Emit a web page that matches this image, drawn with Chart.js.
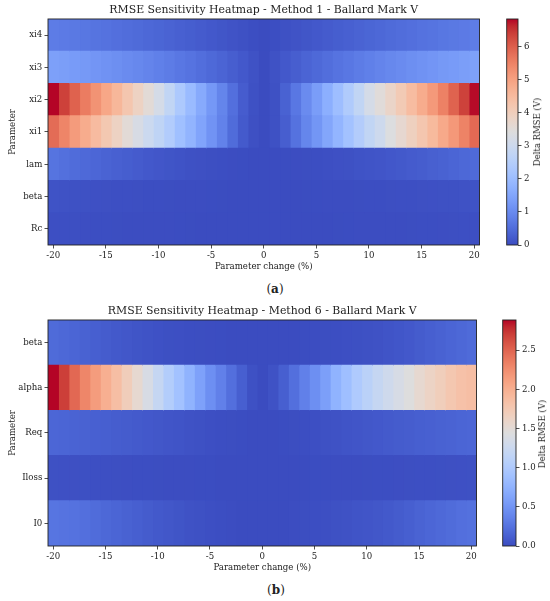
<!DOCTYPE html>
<html>
<head>
<meta charset="utf-8">
<script src="https://cdn.jsdelivr.net/npm/chart.js@4.4.1/dist/chart.umd.min.js"></script>
<style>
  body { margin: 0; background: #fff; font-family: 'DejaVu Serif', serif; color: #222; }
  canvas { position: absolute; }
  .cap { position: absolute; font-size: 12px; transform: translate(-50%, -50%); white-space: nowrap; }
  .cblabel { position: absolute; font-size: 8.5px; white-space: nowrap; transform: translate(-50%, -50%) rotate(-90deg); }
</style>
</head>
<body>
<canvas id="heatA" width="490" height="273" style="left:0;top:0"></canvas>
<canvas id="barA" width="50" height="273" style="left:500px;top:0"></canvas>
<div class="cblabel" style="left:537px;top:132px">Delta RMSE (V)</div>
<div class="cap" style="left:275px;top:289px">(<b>a</b>)</div>

<canvas id="heatB" width="490" height="273" style="left:0;top:301px"></canvas>
<canvas id="barB" width="54" height="273" style="left:496px;top:301px"></canvas>
<div class="cblabel" style="left:541.5px;top:433.5px">Delta RMSE (V)</div>
<div class="cap" style="left:276px;top:590px">(<b>b</b>)</div>

<script>
// parameter change (%) columns
const changes = [-20, -19, -18, -17, -16, -15, -14, -13, -12, -11, -10, -9, -8, -7, -6, -5, -4, -3, -2, -1, 0,
  1, 2, 3, 4, 5, 6, 7, 8, 9, 10, 11, 12, 13, 14, 15, 16, 17, 18, 19, 20];
const changeTicks = [-20, -15, -10, -5, 0, 5, 10, 15, 20];

// (a) Method 1
const paramsA = ['xi4', 'xi3', 'xi2', 'xi1', 'lam', 'beta', 'Rc'];
const xi4A = [0.76, 0.73, 0.70, 0.67, 0.63, 0.59, 0.55, 0.51, 0.47, 0.43, 0.39, 0.35, 0.31, 0.27, 0.23, 0.19, 0.15, 0.11, 0.07, 0.03, 0,
  0.03, 0.07, 0.11, 0.15, 0.19, 0.23, 0.27, 0.31, 0.35, 0.39, 0.43, 0.47, 0.51, 0.55, 0.59, 0.63, 0.67, 0.70, 0.73, 0.77];
const xi3A = [1.40, 1.36, 1.31, 1.26, 1.20, 1.14, 1.08, 1.02, 0.96, 0.89, 0.82, 0.75, 0.68, 0.61, 0.53, 0.45, 0.37, 0.28, 0.19, 0.09, 0,
  0.09, 0.19, 0.28, 0.37, 0.45, 0.53, 0.61, 0.68, 0.75, 0.82, 0.89, 0.96, 1.02, 1.08, 1.14, 1.20, 1.26, 1.31, 1.36, 1.41];
const xi2A = [6.84, 6.38, 5.96, 5.60, 5.25, 4.90, 4.58, 4.22, 3.88, 3.55, 3.18, 2.76, 2.34, 1.97, 1.60, 1.25, 0.90, 0.55, 0.25, 0.07, 0,
  0.08, 0.33, 0.68, 1.02, 1.35, 1.70, 2.05, 2.40, 2.76, 3.18, 3.50, 3.80, 4.12, 4.46, 4.80, 5.15, 5.52, 5.95, 6.36, 6.80];
const xi1A = [5.82, 5.47, 5.12, 4.80, 4.48, 4.18, 3.88, 3.55, 3.25, 2.97, 2.72, 2.43, 2.08, 1.80, 1.48, 1.16, 0.86, 0.50, 0.21, 0.06, 0,
  0.07, 0.28, 0.60, 0.92, 1.21, 1.52, 1.83, 2.13, 2.45, 2.76, 3.02, 3.38, 3.66, 3.95, 4.22, 4.52, 4.85, 5.16, 5.50, 5.86];
const lamA = [0.62, 0.56, 0.50, 0.45, 0.40, 0.35, 0.31, 0.27, 0.23, 0.19, 0.16, 0.13, 0.10, 0.08, 0.06, 0.04, 0.03, 0.02, 0.01, 0.005, 0,
  0.005, 0.01, 0.015, 0.025, 0.035, 0.05, 0.065, 0.08, 0.10, 0.12, 0.14, 0.17, 0.20, 0.23, 0.26, 0.30, 0.34, 0.38, 0.42, 0.46];
const betaA = [0.10, 0.09, 0.08, 0.07, 0.065, 0.06, 0.05, 0.045, 0.04, 0.035, 0.03, 0.025, 0.02, 0.015, 0.012, 0.01, 0.008, 0.006, 0.004, 0.002, 0,
  0.002, 0.004, 0.006, 0.008, 0.01, 0.012, 0.015, 0.02, 0.025, 0.03, 0.035, 0.04, 0.045, 0.05, 0.06, 0.065, 0.07, 0.08, 0.09, 0.10];
const RcA = [0.05, 0.045, 0.04, 0.036, 0.032, 0.028, 0.025, 0.022, 0.019, 0.016, 0.014, 0.012, 0.01, 0.008, 0.006, 0.005, 0.004, 0.003, 0.002, 0.001, 0,
  0.001, 0.002, 0.003, 0.004, 0.005, 0.006, 0.008, 0.01, 0.012, 0.014, 0.016, 0.019, 0.022, 0.025, 0.028, 0.032, 0.036, 0.04, 0.045, 0.05];
const maxA = 6.84;
const barTicksA = [0, 1, 2, 3, 4, 5, 6];

// (b) Method 6
const paramsB = ['beta', 'alpha', 'Req', 'Iloss', 'I0'];
const betaB = [0.20, 0.18, 0.16, 0.14, 0.12, 0.10, 0.085, 0.07, 0.055, 0.045, 0.035, 0.025, 0.02, 0.015, 0.01, 0.008, 0.005, 0.003, 0.002, 0.001, 0,
  0.001, 0.002, 0.003, 0.005, 0.008, 0.01, 0.015, 0.02, 0.025, 0.03, 0.04, 0.05, 0.065, 0.08, 0.10, 0.12, 0.14, 0.16, 0.18, 0.20];
const alphaB = [2.886, 2.70, 2.48, 2.30, 2.15, 2.00, 1.86, 1.70, 1.54, 1.37, 1.20, 1.04, 0.90, 0.75, 0.60, 0.46, 0.35, 0.23, 0.12, 0.03, 0,
  0.04, 0.12, 0.23, 0.35, 0.46, 0.58, 0.75, 0.87, 1.00, 1.10, 1.20, 1.28, 1.36, 1.44, 1.54, 1.62, 1.69, 1.77, 1.83, 1.86];
const ReqB = [0.17, 0.16, 0.15, 0.14, 0.13, 0.12, 0.11, 0.10, 0.09, 0.08, 0.07, 0.06, 0.05, 0.04, 0.03, 0.02, 0.015, 0.01, 0.005, 0.002, 0,
  0.002, 0.005, 0.01, 0.015, 0.02, 0.03, 0.04, 0.05, 0.06, 0.07, 0.08, 0.09, 0.10, 0.11, 0.12, 0.13, 0.14, 0.15, 0.16, 0.17];
const IlossB = [0.03, 0.028, 0.026, 0.024, 0.022, 0.02, 0.018, 0.016, 0.014, 0.012, 0.01, 0.008, 0.007, 0.006, 0.005, 0.004, 0.003, 0.002, 0.001, 0.0005, 0,
  0.0005, 0.001, 0.002, 0.003, 0.004, 0.005, 0.006, 0.007, 0.008, 0.01, 0.012, 0.014, 0.016, 0.018, 0.02, 0.022, 0.024, 0.026, 0.028, 0.03];
const I0B = [0.27, 0.26, 0.25, 0.23, 0.21, 0.18, 0.16, 0.14, 0.12, 0.10, 0.085, 0.07, 0.055, 0.04, 0.03, 0.02, 0.012, 0.006, 0.003, 0.001, 0,
  0.001, 0.003, 0.006, 0.01, 0.015, 0.022, 0.03, 0.04, 0.05, 0.06, 0.07, 0.085, 0.10, 0.12, 0.15, 0.17, 0.19, 0.21, 0.23, 0.24];
const maxB = 2.886;
const barTicksB = [0, 0.5, 1, 1.5, 2, 2.5];

// matplotlib coolwarm
const coolwarm = [
  [59, 76, 192], [68, 90, 204], [77, 104, 215], [87, 117, 225], [98, 130, 234], [108, 142, 241],
  [119, 154, 247], [130, 165, 251], [141, 176, 254], [152, 185, 255], [163, 194, 255], [174, 201, 253],
  [184, 208, 249], [194, 213, 244], [204, 217, 238], [213, 219, 230], [221, 221, 221], [229, 216, 209],
  [236, 211, 197], [241, 204, 184], [245, 196, 172], [247, 187, 159], [247, 177, 147], [247, 166, 134],
  [244, 154, 123], [241, 141, 111], [236, 127, 99], [229, 112, 89], [222, 96, 77], [213, 80, 67],
  [203, 62, 56], [192, 40, 47], [180, 4, 38]
];

function cmap(t) {
  t = Math.min(1, Math.max(0, t));
  const p = t * (coolwarm.length - 1);
  const i = Math.min(Math.floor(p), coolwarm.length - 2);
  const f = p - i;
  const a = coolwarm[i], b = coolwarm[i + 1];
  const c = [0, 1, 2].map(k => Math.round(a[k] + (b[k] - a[k]) * f));
  return `rgb(${c[0]},${c[1]},${c[2]})`;
}

const ink = '#222';
const tickFont = { family: "'DejaVu Serif', serif", size: 8.6 };

// black box around the plot, like the axes spines
const frame = {
  id: 'frame',
  afterDraw(chart) {
    const { ctx, chartArea: a } = chart;
    ctx.save();
    ctx.strokeStyle = ink;
    ctx.lineWidth = 0.9;
    ctx.strokeRect(a.left, a.top, a.right - a.left, a.bottom - a.top);
    ctx.restore();
  }
};

function heatmap(id, params, rows, vmax, title, padRight) {
  // one dataset per column, one floating bar per parameter row
  const datasets = changes.map((c, i) => ({
    data: params.map(() => [c - 0.5, c + 0.5]),
    backgroundColor: rows.map(r => cmap(r[i] / vmax)),
    borderWidth: 0,
    inflateAmount: 0.5,
    grouped: false,
    barPercentage: 1,
    categoryPercentage: 1
  }));

  new Chart(document.getElementById(id), {
    type: 'bar',
    data: { labels: params, datasets },
    options: {
      indexAxis: 'y',
      responsive: false,
      animation: false,
      layout: { padding: { left: 0, right: padRight, top: 0, bottom: 0 } },
      plugins: {
        legend: { display: false },
        tooltip: { enabled: false },
        title: {
          display: true,
          text: title,
          fullSize: false,
          color: ink,
          font: { family: "'DejaVu Serif', serif", size: 10.9, weight: 'normal' },
          padding: { top: 3.4, bottom: 2.5 }
        }
      },
      scales: {
        x: {
          type: 'linear',
          min: -20.5,
          max: 20.5,
          afterBuildTicks: s => { s.ticks = changeTicks.map(v => ({ value: v })); },
          afterFit: s => { s.height = 28; },
          grid: { drawOnChartArea: false, tickLength: 3.5, color: ink, lineWidth: 0.8 },
          border: { display: false },
          ticks: { font: tickFont, color: ink, padding: 2, maxRotation: 0, autoSkip: false },
          title: { display: true, text: 'Parameter change (%)', font: tickFont, color: ink, padding: { top: 0, bottom: 1 } }
        },
        y: {
          afterFit: s => { s.width = 48; },
          grid: { offset: false, drawOnChartArea: false, tickLength: 3.5, color: ink, lineWidth: 0.8 },
          border: { display: false },
          ticks: { font: tickFont, color: ink, padding: 2.2 },
          title: { display: true, text: 'Parameter', font: tickFont, color: ink, padding: { top: 8, bottom: 0 } }
        }
      }
    },
    plugins: [frame]
  });
}

function colorbar(id, vmax, ticks, digits, padLeft, axisWidth) {
  new Chart(document.getElementById(id), {
    type: 'bar',
    data: {
      labels: [''],
      datasets: [{
        data: [[0, vmax]],
        backgroundColor: ctx => {
          const chart = ctx.chart;
          const y = chart.scales.y;
          if (!chart.chartArea || !y) return cmap(0.5);
          const g = chart.ctx.createLinearGradient(0, y.getPixelForValue(0), 0, y.getPixelForValue(vmax));
          coolwarm.forEach((c, i) => g.addColorStop(i / (coolwarm.length - 1), `rgb(${c[0]},${c[1]},${c[2]})`));
          return g;
        },
        borderWidth: 0,
        barPercentage: 1,
        categoryPercentage: 1
      }]
    },
    options: {
      responsive: false,
      animation: false,
      layout: { padding: { left: padLeft, right: 0, top: 19, bottom: 28 } },
      plugins: { legend: { display: false }, tooltip: { enabled: false } },
      scales: {
        x: { display: false },
        y: {
          position: 'right',
          min: 0,
          max: vmax,
          afterBuildTicks: s => { s.ticks = ticks.map(v => ({ value: v })); },
          afterFit: s => { s.width = axisWidth; },
          grid: { drawOnChartArea: false, tickLength: 3.5, color: ink, lineWidth: 0.8 },
          border: { display: false },
          ticks: { font: tickFont, color: ink, padding: 2.5, callback: v => Number(v).toFixed(digits) }
        }
      }
    },
    plugins: [frame]
  });
}

heatmap('heatA', paramsA, [xi4A, xi3A, xi2A, xi1A, lamA, betaA, RcA], maxA,
  'RMSE Sensitivity Heatmap - Method 1 - Ballard Mark V', 10.5);
colorbar('barA', maxA, barTicksA, 0, 6.7, 32);

heatmap('heatB', paramsB, [betaB, alphaB, ReqB, IlossB, I0B], maxB,
  'RMSE Sensitivity Heatmap - Method 6 - Ballard Mark V', 13.5);
colorbar('barB', maxB, barTicksB, 1, 6.7, 34);
</script>
</body>
</html>
